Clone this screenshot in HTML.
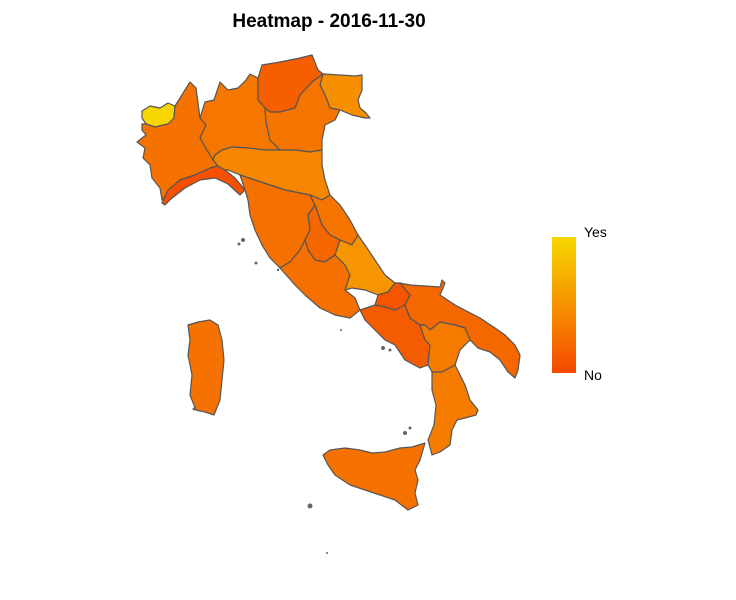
<!DOCTYPE html>
<html><head><meta charset="utf-8"><style>
body{margin:0;background:#fff;}
svg{display:block;font-family:"Liberation Sans",sans-serif;}
</style></head><body>
<svg width="736" height="600" viewBox="0 0 736 600">
<defs><linearGradient id="lg" x1="0" y1="1" x2="0" y2="0">
<stop offset="0" stop-color="#F54A00"/><stop offset="1" stop-color="#F7D800"/></linearGradient></defs>
<text x="329" y="27" text-anchor="middle" font-size="19" font-weight="bold">Heatmap - 2016-11-30</text>
<g id="map"></g>
<rect x="552" y="237" width="24" height="136" fill="url(#lg)"/>
<text x="584" y="237" font-size="14">Yes</text>
<text x="584" y="380" font-size="14">No</text>
</svg>
<script>
const regions=["valle-d-aosta","piemonte","liguria","lombardia","trentino","friuli","veneto","emilia-romagna","toscana","marche","umbria","lazio","abruzzo","molise","campania","puglia","basilicata","calabria","sicilia","sardegna"];
const values=[0.98,0.28,0.04,0.32,0.15,0.49,0.30,0.42,0.27,0.30,0.19,0.27,0.53,0.08,0.13,0.21,0.34,0.35,0.28,0.28];
const shapes={
"valle-d-aosta":"142,111 150,106 160,108 168,103 175,106 174,118 168,124 155,127 146,124 142,118",
"piemonte":"142,124 146,124 155,127 168,124 174,118 175,106 190,82 196,88 200,118 206,125 200,138 207,150 213,160 218,166 210,168 195,175 180,180 170,190 162,200 160,188 152,178 150,165 143,158 145,148 137,142 146,135 142,130",
"liguria":"162,203 168,190 180,180 195,175 210,168 218,166 225,170 235,178 245,190 240,195 228,184 215,178 200,180 185,188 172,198 165,205",
"lombardia":"200,118 205,102 214,100 220,82 228,90 238,88 246,80 250,74 258,78 258,100 265,108 266,122 270,140 280,150 265,150 248,148 232,147 222,150 215,155 213,160 207,150 200,138 206,125",
"trentino":"258,78 262,65 280,62 300,58 312,55 318,70 323,74 312,82 300,95 295,108 280,112 270,112 265,108 258,100",
"friuli":"323,74 340,75 355,76 362,75 362,90 358,100 360,108 365,112 370,118 365,118 352,115 340,110 330,108 325,95 320,85",
"veneto":"312,82 323,74 320,85 325,95 330,108 340,110 335,120 325,125 322,140 322,150 310,152 295,150 280,150 270,140 266,122 265,108 270,112 280,112 295,108 300,95",
"emilia-romagna":"222,150 232,147 248,148 265,150 280,150 295,150 310,152 322,150 322,165 325,180 330,195 322,200 310,195 300,193 285,190 270,185 255,180 240,175 228,170 225,170 218,166 213,160 215,155",
"toscana":"240,175 255,180 270,185 285,190 300,193 310,195 315,205 308,215 310,230 305,240 300,250 290,262 280,268 270,258 262,245 255,230 250,215 248,200 245,190",
"marche":"310,195 322,200 330,195 340,205 350,220 358,235 352,245 340,240 330,235 322,225 315,205",
"umbria":"315,205 322,225 330,235 340,240 335,255 325,262 315,260 308,250 305,240 310,230 308,215",
"lazio":"280,268 290,262 300,250 305,240 308,250 315,260 325,262 335,255 345,265 350,275 345,290 355,298 360,310 350,318 335,315 320,308 305,295 295,285",
"abruzzo":"340,240 352,245 358,235 365,245 375,260 385,275 395,283 388,292 378,295 365,290 352,288 345,290 350,275 345,265 335,255",
"molise":"378,295 388,292 395,283 400,283 410,295 405,305 395,310 385,307 375,305",
"campania":"360,310 375,305 385,307 395,310 405,305 410,318 420,325 425,340 430,345 428,365 420,368 405,360 395,345 385,340 375,330 365,320",
"puglia":"400,283 410,285 440,287 442,280 445,283 440,295 455,305 480,318 495,328 505,335 515,345 520,355 518,370 515,378 508,372 500,360 490,352 478,348 470,340 465,328 455,325 440,322 430,330 425,325 420,325 410,318 405,305 410,295",
"basilicata":"420,325 425,325 430,330 440,322 455,325 465,328 470,340 460,350 455,365 442,372 432,372 428,365 430,345 425,340",
"calabria":"432,372 442,372 455,365 460,375 465,385 470,400 478,410 476,415 465,418 457,420 452,430 450,445 440,452 432,455 428,440 434,425 436,405 432,390",
"sicilia":"323,455 330,450 345,448 360,450 372,453 385,452 400,448 412,447 425,443 420,460 415,470 418,480 415,493 418,505 408,510 395,500 380,495 365,490 350,485 335,475 328,465",
"sardegna":"188,325 198,322 210,320 218,325 222,340 224,360 222,380 220,400 214,415 205,412 196,410 190,395 192,375 188,355 190,340"
};
function colorScale(v){
  const r=Math.round(245+(247-245)*v), g=Math.round(74+(216-74)*v);
  return `rgb(${r},${g},0)`;
}
const NS="http://www.w3.org/2000/svg";
const map=document.getElementById('map');
regions.forEach((name,i)=>{
  const p=document.createElementNS(NS,'polygon');
  p.setAttribute('points',shapes[name]);
  p.setAttribute('fill',colorScale(values[i]));
  p.setAttribute('stroke','#555');
  p.setAttribute('stroke-width','1.2');
  p.setAttribute('stroke-linejoin','round');
  
  
  map.appendChild(p);
});
const islands=[[243,240,2],[239,244,1.5],[256,263,1.5],[278,270,1.2],[310,506,2.5],[327,553,1],[405,433,2],[410,428,1.5],[383,348,2],[390,350,1.5],[341,330,1],[194,409,1.5]];
islands.forEach(d=>{
  const c=document.createElementNS(NS,'circle');
  c.setAttribute('cx',d[0]);c.setAttribute('cy',d[1]);c.setAttribute('r',d[2]);
  c.setAttribute('fill','#666');
  
  
  map.appendChild(c);
});
</script>
</body></html>
